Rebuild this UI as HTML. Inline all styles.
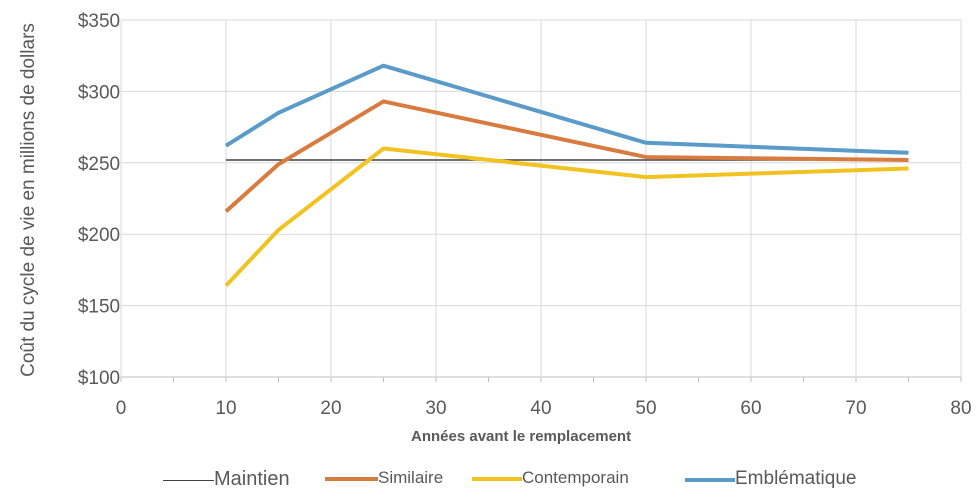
<!DOCTYPE html>
<html><head><meta charset="utf-8"><style>
body{margin:0;background:#fff;}
svg text{font-family:"Liberation Sans",sans-serif;}
</style></head><body>
<svg id="c" width="980" height="499"></svg>
<script>
const years=[10,15,25,50,75];
const maintien=[252,252,252,252,252];
const similaire=[216,249,293,254,252];
const contemporain=[164,203,260,240,246];
const emblematique=[262,285,318,264,257];
const yTicks=[100,150,200,250,300,350];
const yTickLabels=["$100","$150","$200","$250","$300","$350"];
const xTicks=[0,10,20,30,40,50,60,70,80];
const NS="http://www.w3.org/2000/svg";
const svg=document.getElementById('c');
const X0=121,X1=961,Y0=377,Y1=20;
const xs=v=>X0+(v-0)/80*(X1-X0);
const ys=v=>Y0-(v-100)/250*(Y0-Y1);
function mk(t,a,p){const e=document.createElementNS(NS,t);for(const k in a)e.setAttribute(k,a[k]);(p||svg).appendChild(e);return e;}
const grid=mk('g',{});


yTicks.forEach((t,i)=>{
  mk('line',{x1:X0,x2:X1,y1:ys(t),y2:ys(t),stroke:i==0?'#bfbfbf':'#d9d9d9','stroke-width':1},grid);
  const tx=mk('text',{x:99,y:ys(t)+7,'text-anchor':'middle','font-size':19,fill:'#595959'});
  tx.textContent=yTickLabels[i];
  
  
});
xTicks.forEach(t=>{
  mk('line',{x1:xs(t),x2:xs(t),y1:Y1,y2:Y0,stroke:'#d9d9d9','stroke-width':1},grid);
  const tx=mk('text',{x:xs(t),y:414,'text-anchor':'middle','font-size':19,fill:'#595959'});
  tx.textContent=t;
  
  
});
for(let t=0;t<=80;t+=5)mk('line',{x1:xs(t),x2:xs(t),y1:Y0,y2:Y0+5,stroke:'#bfbfbf'},grid);
const series=[["maintien",maintien,'#404040',1.5],["similaire",similaire,'#d77b3f',4],["contemporain",contemporain,'#f2c320',4],["emblematique",emblematique,'#5b9bc9',4]];
series.forEach(([n,d,c,w])=>{
  const p=mk('polyline',{points:years.map((y,i)=>xs(y)+','+ys(d[i])).join(' '),fill:'none',stroke:c,'stroke-width':w,'stroke-linejoin':'round'});
  
  
});
</script>
<div style="position:absolute;left:29px;top:200px;transform:translate(-50%,-50%) rotate(-90deg);white-space:nowrap;font:19px 'Liberation Sans',sans-serif;color:#595959;">Coût du cycle de vie en millions de dollars</div>
<div style="position:absolute;left:411px;top:428px;font:bold 15px 'Liberation Sans',sans-serif;color:#595959;">Années avant le remplacement</div>
<div style="position:absolute;left:0;top:468px;font:17px 'Liberation Sans',sans-serif;color:#595959;">
<span style="position:absolute;left:163px;white-space:nowrap;"><span style="display:inline-block;width:51px;height:1.5px;background:#404040;vertical-align:middle"></span><span style="font-size:20px">Maintien</span></span>
<span style="position:absolute;left:325px;white-space:nowrap;"><span style="display:inline-block;width:53px;height:4px;background:#d77b3f;vertical-align:middle"></span>Similaire</span>
<span style="position:absolute;left:472px;white-space:nowrap;"><span style="display:inline-block;width:50px;height:4px;background:#f2c320;vertical-align:middle"></span>Contemporain</span>
<span style="position:absolute;left:685px;white-space:nowrap;"><span style="display:inline-block;width:50px;height:4px;background:#5b9bc9;vertical-align:middle"></span><span style="font-size:19px">Emblématique</span></span>
</div>
</body></html>
